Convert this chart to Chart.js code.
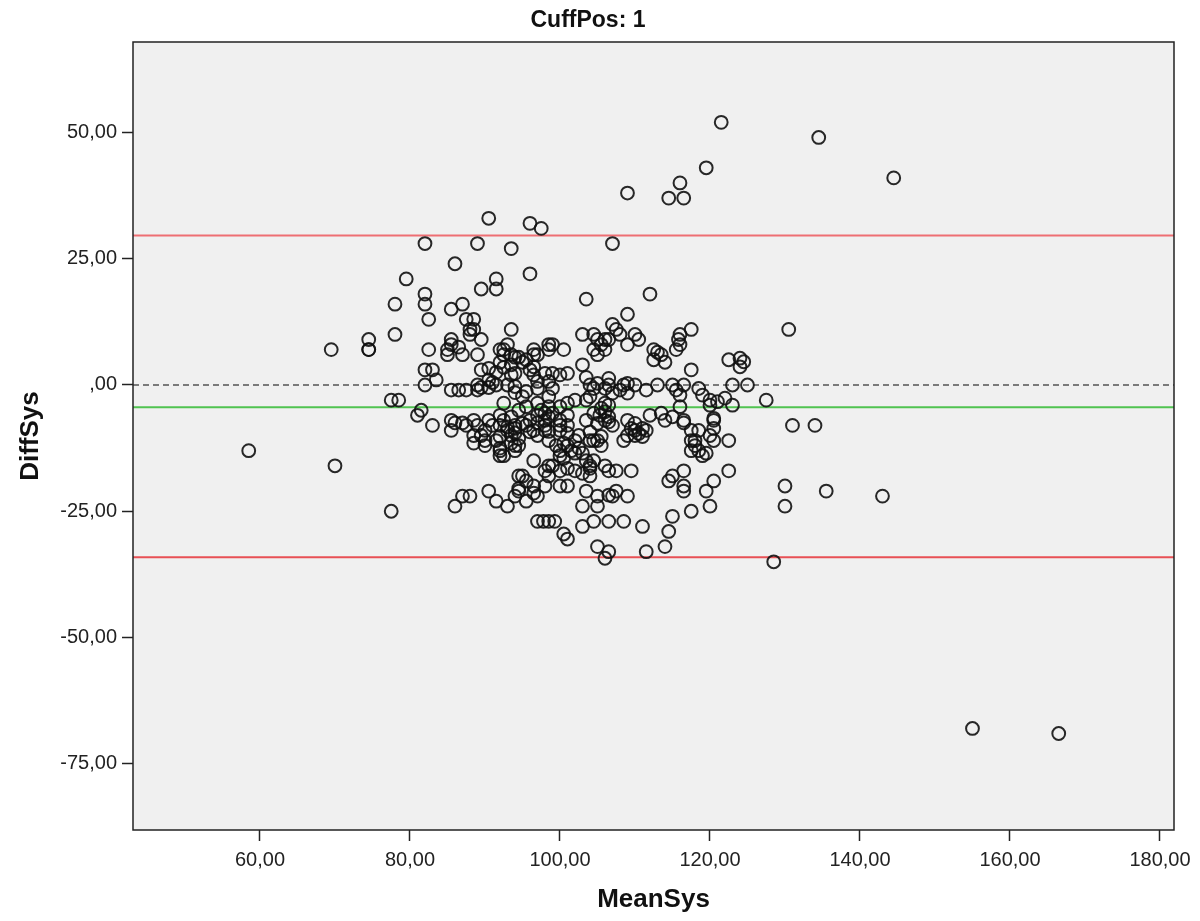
<!DOCTYPE html>
<html><head><meta charset="utf-8">
<script src="https://cdn.jsdelivr.net/npm/chart.js@4/dist/chart.umd.min.js"></script>
<style>html,body{margin:0;padding:0;background:#fff}#wrap{width:1200px;height:921px;position:relative}</style>
</head><body><div id="wrap"><canvas id="c" width="1200" height="921"></canvas></div>
<script>
const chartTitle = 'CuffPos: 1';
const xAxisTitle = 'MeanSys';
const yAxisTitle = 'DiffSys';

const meanSys = [121.5,134.5,144.5,119.5,116,109,114.5,116.5,90.5,96,97.5,82,89,107,93.5,86,96,79.5,91.5,89.5,91.5,82,112,103.5,78,82,87,85.5,109,82.5,87.5,88.5,107,88,88.5,93.5,117.5,130.5,107.5,78,88,103,108,110,104.5,116,74.5,85.5,89.5,105,106,106.5,110.5,115.8,85.5,93,98.5,99,105.5,109,116,74.5,74.5,69.5,82.5,85,86.5,92,92.5,96.5,98.5,100.5,104.5,106,112.5,115.5,85,87,89,92.5,93.5,96.5,97,105,113,113.5,94,94.5,95.5,112.5,114,122.5,124,124.5,92,95,124,103,93.5,96.5,82,83,89.5,90.5,92.5,96,117.5,91.5,93.5,96.5,98,99,100,101,94,103.5,106.5,83.5,90.5,91,97,98.5,82,89,91.5,93,104,105,106.5,108.5,109,110,113,115,116.5,123,125,89.5,90.5,89,85.5,86.5,87.5,94,97,99,104.5,106,111.5,115.5,118.5,108,94,95.5,107,109,116,119,104,95,98.5,122,77.5,78.5,102,103.5,120,121,127.5,101,100,92.5,97,95.5,98.5,106,106.5,116,120,123,81.5,81,94.5,97.5,98,99,105.5,106,104.5,105.3,113.5,112,101,92,93.5,97,98.5,106.5,115,120.5,85.5,86,87,88.5,90.5,92.5,96,97,98,100,103.5,105,106,106.5,109,110,114,116.5,116.5,120.5,83,87.5,89,91,92,94,95.5,98,100,101,107,131,134,93,94,95,109.5,111,120.5,85.5,90,93,94,96.5,98,98.5,100,101,104,110.5,110,111.5,117.5,118.5,88.5,89.5,93.5,96,97,102.5,105.5,109,110,111,120,92,94.5,90,91.5,98.5,102,104,104.5,105,108.5,117.5,118,120.5,122.5,88.5,93.5,100.5,90,94,94.5,99.5,101,105.5,118,92,102.5,58.5,94,100,101.5,117.5,118.5,92,102,103,119.5,92,92.5,100,119,100.5,96.5,103.5,104.5,70,98.5,99,104,106,104,101,98,100,102,103,106.5,107.5,109.5,116.5,122.5,94.5,95,98.5,104,115,95.5,114.5,120.5,94.5,96.5,98,100,101,116.5,130,90.5,94.5,96.5,103.5,107.5,116.5,119.5,135.5,87,88,94,97,105,106.5,107,109,143,91.5,95.5,86,93,103,105,120,130,77.5,117.5,115,97,97.8,98.5,99.3,104.5,106.5,108.5,103,111,114.5,100.5,101,105,114,106.5,111.5,106,128.5,155,166.5];

const diffSys = [52,49,41,43,40,38,37,37,33,32,31,28,28,28,27,24,22,21,21,19,19,18,18,17,16,16,16,15,14,13,13,13,12,11,11,11,11,11,11,10,10,10,10,10,10,10,9,9,9,9,9,9,9,9,8,8,8,8,8,8,8,7,7,7,7,7,7.5,7,7,7,7,7,7,7,7,7,6,6,6,6,6,6,6,6,6.5,6,5.5,5.5,5,5,4.5,5,5.3,4.6,4.5,4.5,3.6,4,4,3.6,3,3,3,3.3,3.5,3,3,2.5,2,2,2.3,2.3,2,2.3,2.3,1.5,1.3,1,1,0.5,0.7,0.7,0,0,0,0,0,0.3,0,0,0.3,0,0,0,0,0,0,-0.5,-0.5,-1,-1,-1,-1,-0.3,-0.7,-0.7,-0.7,-0.7,-1,-1,-0.7,-1,-1.5,-1.3,-1.6,-1.6,-2,-2,-2.3,-2.3,-2.3,-2.6,-3,-3,-3,-3,-3,-3.3,-3,-3.6,-4.3,-3.6,-3.6,-4.3,-4.3,-3.6,-4,-4.3,-4,-4,-5,-6,-5,-5,-5.6,-5.6,-4.6,-5.3,-5.6,-6,-5.6,-6,-6,-6,-6.3,-6,-6.3,-6.3,-6.3,-6.6,-7,-7.5,-7.5,-7,-7,-7,-7,-7.5,-7,-7,-7,-7.6,-7,-7.3,-7,-7.6,-7,-7,-7.5,-7,-8,-8,-8,-8,-8,-8,-8,-8,-8,-8,-8,-8,-8,-8.3,-8.6,-7.6,-8.6,-8.6,-8.6,-9,-9,-9,-9.5,-9,-9,-9.2,-9,-9.6,-9.3,-9.6,-9,-9,-9,-9,-10,-10,-10,-9.3,-10,-10,-10.2,-10,-10,-10.2,-10,-10.2,-10.6,-11,-11,-11,-11,-11,-11,-11,-11,-11,-11,-11,-11,-11.5,-11.5,-11.5,-12,-12,-12,-12,-12,-12,-12,-12.5,-12.5,-13,-13,-13,-13,-13,-13,-13,-13.5,-13.5,-13.5,-14,-14,-14,-14,-14.5,-15,-15,-15,-16,-16,-16,-16,-16,-16.5,-16.5,-17,-17,-17,-17.5,-17,-17,-17,-17,-17,-18,-18,-18,-18,-18,-19,-19,-19,-20.5,-20,-20,-20,-20,-20,-20,-21,-21,-21.4,-21,-21,-21,-21,-21,-22,-22,-22,-22,-22,-21.8,-22,-22,-22,-23,-23,-24,-24,-24,-24,-24,-24,-25,-25,-26,-27,-27,-27,-27,-27,-27,-27,-28,-28,-29,-29.5,-30.5,-32,-32,-33,-33,-34.3,-35,-68,-69];

const xTicks = [60, 80, 100, 120, 140, 160, 180];
const yTicks = [-75, -50, -25, 0, 25, 50];
const xRange = [43.07, 181.87];
const yRange = [-88.1, 67.9];
const zeroLine = 0;
const meanDiff = -4.4;
const upperLoA = 29.6;
const lowerLoA = -34.1;

const points = meanSys.map((x, i) => ({x: x, y: diffSys[i]}));
const hline = v => [{x: xRange[0], y: v}, {x: xRange[1], y: v}];

function fmt(v) {
  if (v === 0) return ',00';
  const s = Math.abs(v).toFixed(2).replace('.', ',');
  return (v < 0 ? '-' : '') + s;
}

const FONT = "'Liberation Sans', Arial, sans-serif";

const plotBg = {
  id: 'plotBg',
  beforeDraw(chart) {
    const {ctx, chartArea: a} = chart;
    ctx.save();
    ctx.fillStyle = '#f0f0f0';
    ctx.fillRect(a.left, a.top, a.right - a.left, a.bottom - a.top);
    ctx.restore();
  },
  afterDraw(chart) {
    const {ctx, chartArea: a} = chart;
    ctx.save();
    ctx.strokeStyle = '#222';
    ctx.lineWidth = 1.5;
    ctx.strokeRect(a.left, a.top, a.right - a.left, a.bottom - a.top);
    ctx.fillStyle = '#111';
    ctx.font = 'bold 23px ' + FONT;
    ctx.textAlign = 'center';
    ctx.textBaseline = 'middle';
    ctx.fillText(chartTitle, 588, 21);
    ctx.restore();
  }
};

new Chart(document.getElementById('c'), {
  type: 'scatter',
  data: {
    datasets: [
      {data: points, pointStyle: 'circle', pointRadius: 6.4, pointBorderWidth: 2,
       borderColor: 'rgba(17,17,17,0.9)', backgroundColor: 'rgba(0,0,0,0)', order: 0},
      {data: hline(zeroLine), showLine: true, borderColor: '#7a7a7a', borderWidth: 2, borderDash: [6, 4], pointRadius: 0, order: 1},
      {data: hline(meanDiff), showLine: true, borderColor: 'rgb(80,195,80)', borderWidth: 2, pointRadius: 0, order: 1},
      {data: hline(upperLoA), showLine: true, borderColor: 'rgb(238,110,115)', borderWidth: 2, pointRadius: 0, order: 1},
      {data: hline(lowerLoA), showLine: true, borderColor: 'rgb(232,80,85)', borderWidth: 2, pointRadius: 0, order: 1}
    ]
  },
  options: {
    responsive: false,
    animation: false,
    devicePixelRatio: 1,
    layout: {padding: {left: 0, right: 26, top: 42, bottom: 0}},
    plugins: {legend: {display: false}, tooltip: {enabled: false}, title: {display: false}},
    scales: {
      x: {
        type: 'linear', min: xRange[0], max: xRange[1],
        afterBuildTicks: s => { s.ticks = xTicks.map(v => ({value: v})); },
        afterFit: s => { s.height = 91; },
        border: {display: false},
        grid: {drawOnChartArea: false, drawTicks: true, tickLength: 11, tickColor: '#222', tickWidth: 1.5, color: '#222'},
        ticks: {callback: v => fmt(v), font: {family: FONT, size: 20}, color: '#222', padding: 7, maxRotation: 0, autoSkip: false},
        title: {display: true, text: xAxisTitle, font: {family: FONT, size: 26, weight: 'bold'}, color: '#111', padding: {top: 0, bottom: 6}}
      },
      y: {
        type: 'linear', min: yRange[0], max: yRange[1],
        afterBuildTicks: s => { s.ticks = yTicks.map(v => ({value: v})); },
        afterFit: s => { s.width = 133; },
        border: {display: false},
        grid: {drawOnChartArea: false, drawTicks: true, tickLength: 11, tickColor: '#222', tickWidth: 1.5, color: '#222'},
        ticks: {callback: v => fmt(v), font: {family: FONT, size: 20}, color: '#222', padding: 5, autoSkip: false},
        title: {display: true, text: yAxisTitle, font: {family: FONT, size: 26, weight: 'bold'}, color: '#111', padding: {top: 15, bottom: 0}}
      }
    }
  },
  plugins: [plotBg]
});
</script>
</body></html>
